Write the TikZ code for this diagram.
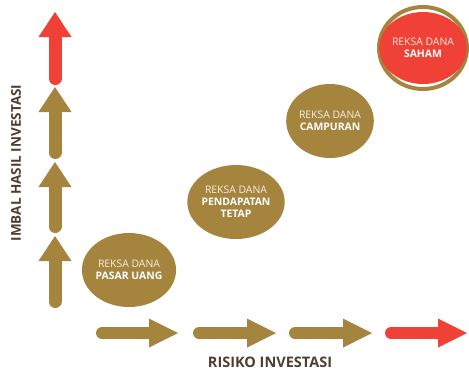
\documentclass[tikz,border=0pt]{standalone}
\usepackage{fontspec}
\setmainfont{Open Sans}
\usetikzlibrary{shapes.geometric}
\definecolor{gold}{HTML}{A5853E}
\definecolor{redc}{HTML}{EF4136}
\definecolor{labelc}{HTML}{4E3D30}
\definecolor{softw}{HTML}{F4EEE2}
\begin{document}
\begin{tikzpicture}[x=1pt,y=-1pt,
  fund/.style={ellipse, fill=gold, minimum width=78pt, minimum height=74pt, inner sep=0pt,
    align=center, text=white, font=\fontsize{10.4}{12.2}\selectfont},
  axislabel/.style={font=\bfseries\fontsize{13.5}{16}\selectfont, text=labelc, inner sep=0pt}]
\useasboundingbox (0,0) rectangle (469,370);
% vertical arrows
\foreach \tip/\bot/\col in {12/85/redc, 87/159/gold, 162/233/gold, 236/308/gold} {
  \draw[\col, line width=13pt, line cap=round] (55,\bot-6.5) -- (55,\tip+24);
  \fill[\col] (55,\tip) -- (71.5,\tip+25) -- (38.5,\tip+25) -- cycle;
}
% horizontal arrows
\foreach \tail/\base/\col in {96/149/gold, 193/247/gold, 289/343/gold, 385/438/redc} {
  \draw[\col, line width=12pt, line cap=round] (\tail+6,333) -- (\base+1,333);
  \fill[\col] (\base+29,333) -- (\base,318.5) -- (\base,347.5) -- cycle;
}
% axis labels
\node[axislabel] (ylab) at (16,163) {\rotatebox{90}{IMBAL HASIL INVESTASI}};
\node[axislabel, font=\bfseries\fontsize{14.5}{16}\selectfont] (xlab) at (270,362) {RISIKO INVESTASI};
% funds
\node[fund] (pasar) at (129,270) {{\color{softw}REKSA DANA}\\\textbf{PASAR UANG}};
\node[fund] (tetap) at (236,202) {{\color{softw}REKSA DANA}\\\textbf{PENDAPATAN}\\\textbf{TETAP}};
\node[fund] (campur) at (330,121) {{\color{softw}REKSA DANA}\\\textbf{CAMPURAN}};
\node[ellipse, draw=gold, line width=4pt, minimum width=88pt, minimum height=82pt, inner sep=0pt] (ring) at (423,48) {};
\node[fund, fill=redc, minimum width=78pt, minimum height=72pt] (saham) at (423,48) {{\color{softw}REKSA DANA}\\\textbf{SAHAM}};
\end{tikzpicture}
\end{document}
